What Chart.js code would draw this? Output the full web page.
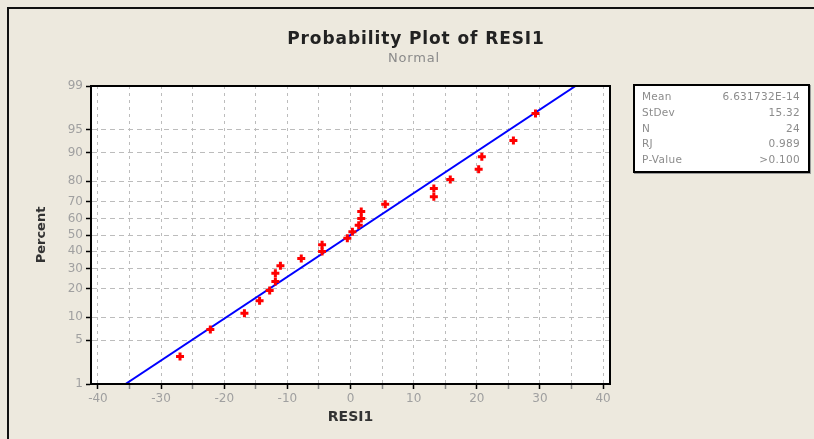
<!DOCTYPE html>
<html lang="en">
<head>
  <meta charset="UTF-8">
  <title>Probability Plot of RESI1</title>
  <script src="https://cdn.jsdelivr.net/npm/chart.js"></script>
  <style>
    body {
      margin: 0;
      background: #ede9de;
      font-family: "DejaVu Sans", Verdana, sans-serif;
    }

    .wrap {
      position: relative;
      width: 814px;
      height: 439px;
      overflow: hidden;
      background: #ede9de;
    }

    .frame {
      position: absolute;
      left: 7px;
      top: 7px;
      width: 900px;
      height: 500px;
      border: 2px solid #111;
    }

    canvas {
      position: absolute;
      left: 0;
      top: 0;
    }

    .title {
      position: absolute;
      left: 0;
      width: 832px;
      top: 29px;
      text-align: center;
      font-weight: bold;
      font-size: 17px;
      letter-spacing: 0.9px;
      line-height: 18px;
      color: #222;
    }

    .subtitle {
      position: absolute;
      left: 0;
      width: 828px;
      top: 50px;
      text-align: center;
      font-size: 13px;
      letter-spacing: 0.8px;
      line-height: 16px;
      color: #8a8a8a;
    }

    .stats {
      position: absolute;
      left: 633px;
      top: 84px;
      width: 158px;
      padding: 3px 8px 3px 7px;
      background: #fff;
      border: 2px solid #000;
      box-shadow: 1px 1px 0 #999;
      font-size: 10.5px;
      letter-spacing: 0.3px;
      line-height: 15.8px;
      color: #8c8c8c;
    }

    .stats div {
      display: flex;
      justify-content: space-between;
    }
  </style>
</head>
<body>

<div class="wrap">
  <div class="frame"></div>
  <canvas id="probChart" width="814" height="439"></canvas>
  <div class="title">Probability Plot of RESI1</div>
  <div class="subtitle">Normal</div>
  <div class="stats" id="stats"></div>
</div>

<script>
  // residuals (sorted) and their plotted percentiles
  const resi = [-27.0, -22.2, -16.8, -14.4, -12.8, -11.9, -11.9, -11.1, -7.8, -4.5, -4.5, -0.5,
                0.3, 1.3, 1.7, 1.7, 5.5, 13.2, 13.2, 15.8, 20.3, 20.8, 25.8, 29.3];
  const percent = [2.9, 7.0, 11.1, 15.2, 19.3, 23.4, 27.5, 31.6, 35.7, 39.8, 43.9, 48.0,
                   52.0, 56.1, 60.2, 64.3, 68.4, 72.5, 76.6, 80.7, 84.8, 88.9, 93.0, 97.1];

  // fitted normal line (mean ~0, StDev 15.32)
  const fitX = [-35.64, 35.64];
  const fitPct = [1, 99];

  const percentTicks = [1, 5, 10, 20, 30, 40, 50, 60, 70, 80, 90, 95, 99];

  const statLabels = ['Mean', 'StDev', 'N', 'RJ', 'P-Value'];
  const statValues = ['6.631732E-14', '15.32', '24', '0.989', '>0.100'];

  document.getElementById('stats').innerHTML = statLabels
    .map((l, i) => '<div><span>' + l + '</span><span>' + statValues[i] + '</span></div>')
    .join('');

  // inverse normal cdf (Acklam)
  function probit(p) {
    const a = [-39.69683028665376, 220.9460984245205, -275.9285104469687, 138.3577518672690, -30.66479806614716, 2.506628277459239];
    const b = [-54.47609879822406, 161.5858368580409, -155.6989798598866, 66.80131188771972, -13.28068155288572];
    const c = [-0.007784894002430293, -0.3223964580411365, -2.400758277161838, -2.549732539343734, 4.374664141464968, 2.938163982698783];
    const d = [0.007784695709041462, 0.3224671290700398, 2.445134137142996, 3.754408661907416];
    const pl = 0.02425;
    let q, r;
    if (p < pl) {
      q = Math.sqrt(-2 * Math.log(p));
      return (((((c[0]*q + c[1])*q + c[2])*q + c[3])*q + c[4])*q + c[5]) / ((((d[0]*q + d[1])*q + d[2])*q + d[3])*q + 1);
    }
    if (p > 1 - pl) {
      q = Math.sqrt(-2 * Math.log(1 - p));
      return -(((((c[0]*q + c[1])*q + c[2])*q + c[3])*q + c[4])*q + c[5]) / ((((d[0]*q + d[1])*q + d[2])*q + d[3])*q + 1);
    }
    q = p - 0.5;
    r = q * q;
    return (((((a[0]*r + a[1])*r + a[2])*r + a[3])*r + a[4])*r + a[5])*q / (((((b[0]*r + b[1])*r + b[2])*r + b[3])*r + b[4])*r + 1);
  }

  // normal probability axis
  class ProbabilityScale extends Chart.LinearScale {
    static id = 'probability';
    static defaults = Chart.LinearScale.defaults;

    buildTicks() {
      return percentTicks.map(v => ({ value: v }));
    }

    configure() {
      super.configure();
      this._startValue = probit(this.min / 100);
      this._endValue = probit(this.max / 100);
      this._valueRange = this._endValue - this._startValue;
    }

    getPixelForValue(value) {
      if (value === null) return NaN;
      return this.getPixelForDecimal((probit(value / 100) - this._startValue) / this._valueRange);
    }
  }
  Chart.register(ProbabilityScale);

  const plotFrame = {
    id: 'plotFrame',
    beforeDraw(chart) {
      const { ctx, chartArea: a } = chart;
      ctx.save();
      ctx.fillStyle = '#fff';
      ctx.fillRect(a.left, a.top, a.right - a.left, a.bottom - a.top);
      ctx.restore();
    },
    afterDraw(chart) {
      const { ctx, chartArea: a } = chart;
      ctx.save();
      ctx.strokeStyle = '#000';
      ctx.lineWidth = 2;
      ctx.strokeRect(a.left, a.top, a.right - a.left, a.bottom - a.top);
      ctx.restore();
    }
  };

  const font = { family: '"DejaVu Sans", Verdana, sans-serif', size: 12 };

  new Chart(document.getElementById('probChart'), {
    data: {
      datasets: [
        {
          type: 'scatter',
          label: 'RESI1',
          data: resi.map((x, i) => ({ x: x, y: percent[i] })),
          backgroundColor: '#ff0000',
          borderColor: '#ff0000',
          pointStyle: 'cross',
          pointRadius: 4,
          borderWidth: 3,
          order: 1
        },
        {
          type: 'line',
          label: 'Fit',
          data: fitX.map((x, i) => ({ x: x, y: fitPct[i] })),
          borderColor: '#0000ff',
          borderWidth: 2,
          pointRadius: 0,
          order: 2
        }
      ]
    },
    options: {
      responsive: false,
      animation: false,
      layout: {
        padding: { left: 30, right: 204, top: 86, bottom: 0 }
      },
      scales: {
        x: {
          type: 'linear',
          min: -41.1,
          max: 41.1,
          afterFit: s => { s.height = 55; },
          ticks: {
            stepSize: 5,
            includeBounds: false,
            autoSkip: false,
            maxRotation: 0,
            padding: 3,
            color: '#a0a0a0',
            font: font,
            callback: v => (v % 10 === 0 ? String(v) : '')
          },
          grid: {
            color: '#bcbcbc',
            tickLength: 5,
            tickWidth: 1.5,
            tickColor: c => (c.tick && c.tick.value % 10 === 0 ? '#000' : '#888'),
            tickBorderDash: []
          },
          border: { color: '#000', width: 2, dash: [3, 4] },
          title: {
            display: true,
            text: 'RESI1',
            color: '#333',
            font: { family: font.family, size: 14, weight: 'bold' },
            padding: { top: 0, bottom: 13 }
          }
        },
        y: {
          type: 'probability',
          min: 1,
          max: 99,
          afterFit: s => { s.width = 61; },
          ticks: {
            padding: 3,
            color: '#a0a0a0',
            font: font,
            callback: v => String(v)
          },
          grid: {
            color: '#bcbcbc',
            tickLength: 5,
            tickWidth: 1.5,
            tickColor: '#000',
            tickBorderDash: []
          },
          border: { color: '#000', width: 2, dash: [5, 4] },
          title: {
            display: true,
            text: 'Percent',
            color: '#333',
            font: { family: font.family, size: 13, weight: 'bold' },
            padding: { top: 4, bottom: 4 }
          }
        }
      },
      plugins: {
        legend: { display: false },
        tooltip: { enabled: false }
      }
    },
    plugins: [plotFrame]
  });
</script>

</body>
</html>
